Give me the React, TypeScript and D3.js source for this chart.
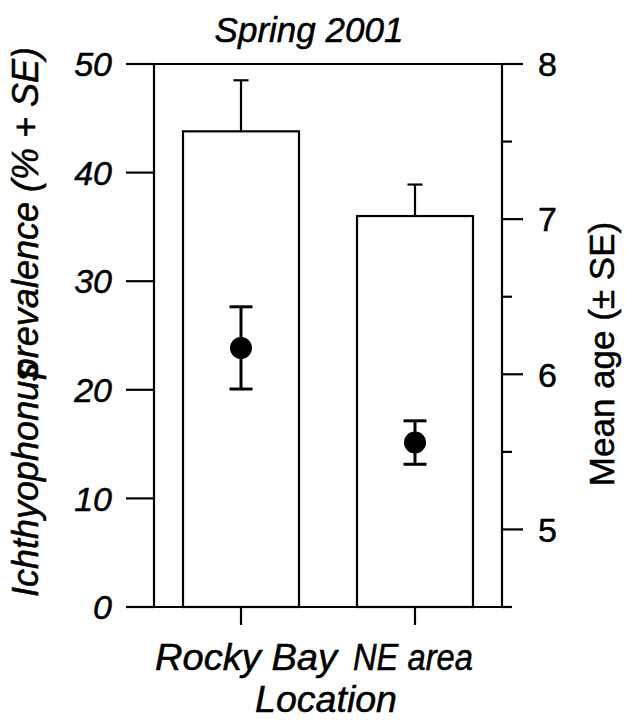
import React from "react";
import * as d3 from "d3";

const categories = ["Rocky Bay", "NE area"];
const prevalence = [43.8, 36.0];
const prevalenceSE = [4.7, 2.9];
const meanAge = [6.17, 5.56];
const ageSE = [0.265, 0.14];
const leftTicks = [0, 10, 20, 30, 40, 50];
const rightMajor = [5, 6, 7, 8];
const rightMinor = [4.5, 5.5, 6.5, 7.5];

const W = 626;
const H = 722;
const L = 154;
const R = 502;
const T = 64;
const B = 607;
const FONT = "'Liberation Sans', Arial, Helvetica, sans-serif";

export default function App() {
  const x = d3.scaleBand<string>().domain(categories).range([L, R]).paddingInner(1 / 3).paddingOuter(1 / 6);
  const yL = d3.scaleLinear().domain([0, 50]).range([B, T]);
  const yR = d3.scaleLinear().domain([4.5, 8]).range([B, T]);
  const sw = 2.2;
  const ts = { stroke: "#000", strokeWidth: 0.5 };
  const labelX = [246, 413];
  const labelLen = [182, 120];
  return (
    <svg width={W} height={H} style={{ position: "absolute", left: 0, top: 0, background: "#fff" }} fontFamily={FONT}>
      <rect x={0} y={0} width={W} height={H} fill="#fff" />
      <text x={309} y={42} fontSize={35} fontStyle="italic" textAnchor="middle" {...ts}>Spring 2001</text>
      {categories.map((c, i) => {
        const x0 = x(c)!;
        const cx = x0 + x.bandwidth() / 2;
        const top = yL(prevalence[i]);
        const et = yL(prevalence[i] + prevalenceSE[i]);
        return (
          <g key={c}>
            <line x1={cx} x2={cx} y1={top} y2={et} stroke="#000" strokeWidth={sw} />
            <line x1={cx - 7.5} x2={cx + 7.5} y1={et} y2={et} stroke="#000" strokeWidth={sw} />
            <rect x={x0} y={top} width={x.bandwidth()} height={B - top} fill="#fff" stroke="#000" strokeWidth={sw} />
          </g>
        );
      })}
      {categories.map((c, i) => {
        const cx = x(c)! + x.bandwidth() / 2;
        const cy = yR(meanAge[i]);
        const a = yR(meanAge[i] + ageSE[i]);
        const b = yR(meanAge[i] - ageSE[i]);
        return (
          <g key={c + "p"}>
            <line x1={cx} x2={cx} y1={a} y2={b} stroke="#000" strokeWidth={3} />
            <line x1={cx - 11.5} x2={cx + 11.5} y1={a} y2={a} stroke="#000" strokeWidth={3} />
            <line x1={cx - 11.5} x2={cx + 11.5} y1={b} y2={b} stroke="#000" strokeWidth={3} />
            <circle cx={cx} cy={cy} r={11} fill="#000" />
          </g>
        );
      })}
      <line x1={L} x2={R} y1={T} y2={T} stroke="#000" strokeWidth={sw} />
      <line x1={L} x2={R} y1={B} y2={B} stroke="#000" strokeWidth={sw} />
      <line x1={L} x2={L} y1={T} y2={B} stroke="#000" strokeWidth={sw} />
      <line x1={R} x2={R} y1={T} y2={B} stroke="#000" strokeWidth={sw} />
      {leftTicks.map((t) => (
        <g key={"l" + t}>
          <line x1={L - 28} x2={L} y1={yL(t)} y2={yL(t)} stroke="#000" strokeWidth={sw} />
          <text x={112} y={yL(t)} dy="0.36em" fontSize={34} fontStyle="italic" textAnchor="end" {...ts}>{t}</text>
        </g>
      ))}
      {rightMajor.map((t) => (
        <g key={"r" + t}>
          <line x1={R} x2={R + 21} y1={yR(t)} y2={yR(t)} stroke="#000" strokeWidth={sw} />
          <text x={538} y={yR(t)} dy="0.36em" fontSize={34} textAnchor="start" {...ts}>{t}</text>
        </g>
      ))}
      {rightMinor.map((t) => (
        <line key={"m" + t} x1={R} x2={R + 10} y1={yR(t)} y2={yR(t)} stroke="#000" strokeWidth={sw} />
      ))}
      {categories.map((c) => {
        const cx = x(c)! + x.bandwidth() / 2;
        return <line key={c + "t"} x1={cx} x2={cx} y1={B} y2={B + 18} stroke="#000" strokeWidth={sw} />;
      })}
      {categories.map((c, i) => (
        <text key={c + "l"} x={labelX[i] - labelLen[i] / 2} y={670} fontSize={36} fontStyle="italic" textAnchor="start"
          textLength={labelLen[i]} lengthAdjust="spacingAndGlyphs" {...ts}>{c}</text>
      ))}
      <text x={255} y={712} fontSize={36} fontStyle="italic" textAnchor="start" textLength={142} lengthAdjust="spacingAndGlyphs" {...ts}>Location</text>
      <g transform="translate(38,597) rotate(-90)">
        <text x={0} y={0} fontSize={36} fontStyle="italic" textAnchor="start" {...ts}>Ichthyophonus</text>
      </g>
      <g transform="translate(38,47) rotate(-90)">
        <text x={0} y={0} fontSize={36} fontStyle="italic" textAnchor="end" {...ts}>prevalence (% + SE)</text>
      </g>
      <g transform="translate(614,354) rotate(-90)">
        <text x={0} y={0} fontSize={35} textAnchor="middle" {...ts}>Mean age (± SE)</text>
      </g>
    </svg>
  );
}
